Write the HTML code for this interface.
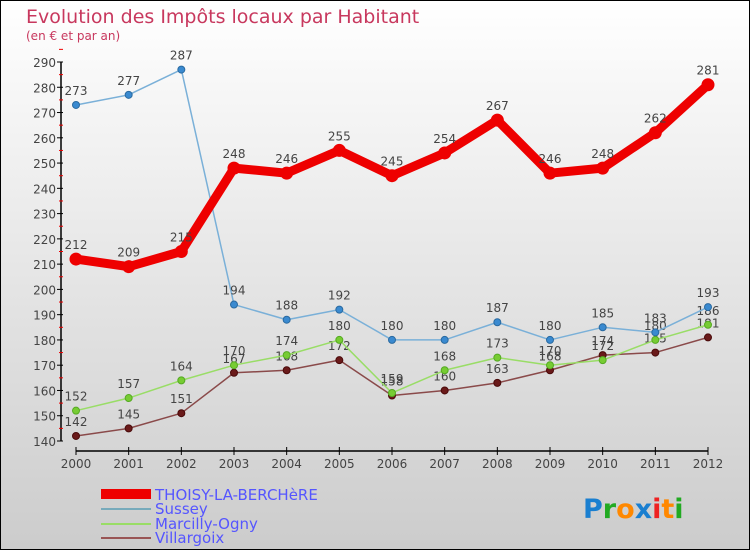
<!DOCTYPE html>
<html><head><meta charset="utf-8"><style>
body{margin:0}
#c{width:748px;height:548px;border:1px solid #000;background:linear-gradient(#fff,#ccc);position:relative;font-family:"DejaVu Sans","Liberation Sans",sans-serif;overflow:hidden}
svg text{font-family:"DejaVu Sans","Liberation Sans",sans-serif}
</style></head><body>
<div id="c">
<svg id="s" width="748" height="548">
<text x="25" y="22" font-size="19" fill="#c8385e">Evolution des Impôts locaux par Habitant</text>
<text x="25" y="39" font-size="12" fill="#c8385e">(en € et par an)</text>
<g id="axes"></g><g id="series"></g>
<g>
<rect x="100" y="488" width="50" height="10" fill="#e00"/>
<text x="154" y="499" font-size="15" fill="#55f">THOISY-LA-BERCHèRE</text>
<line x1="100" y1="508" x2="150" y2="508" stroke="#7ab" stroke-width="2"/>
<text x="154" y="513" font-size="15" fill="#55f">Sussey</text>
<line x1="100" y1="523" x2="150" y2="523" stroke="#9d6" stroke-width="2"/>
<text x="154" y="528" font-size="15" fill="#55f">Marcilly-Ogny</text>
<line x1="100" y1="537" x2="150" y2="537" stroke="#955" stroke-width="2"/>
<text x="154" y="542" font-size="15" fill="#55f">Villargoix</text>
</g>
<g font-size="27" font-weight="bold">
<text x="582" y="517"><tspan fill="#1a7fd0">P</tspan><tspan fill="#2a2">r</tspan><tspan fill="#f80">o</tspan><tspan fill="#1a7fd0">x</tspan><tspan fill="#e22">i</tspan><tspan fill="#f80">t</tspan><tspan fill="#2a2">i</tspan></text>
</g>
</svg></div>
<script>
const years=[2000,2001,2002,2003,2004,2005,2006,2007,2008,2009,2010,2011,2012];
const yTicks=[140,150,160,170,180,190,200,210,220,230,240,250,260,270,280,290];
const thoisy=[212,209,215,248,246,255,245,254,267,246,248,262,281];
const sussey=[273,277,287,194,188,192,180,180,187,180,185,183,193];
const marcilly=[152,157,164,170,174,180,159,168,173,170,172,180,186];
const villargoix=[142,145,151,167,168,172,158,160,163,168,174,175,181];
const NS="http://www.w3.org/2000/svg";
const X=i=>75+i*(632/12);
const Y=v=>440-(v-140)*(379/150);
function mk(t,a,p){const e=document.createElementNS(NS,t);for(const k in a)e.setAttribute(k,a[k]);p.appendChild(e);return e;}
const ax=document.getElementById('axes'),sg=document.getElementById('series');
let l=mk('line',{x1:60,y1:Y(290),x2:60,y2:Y(140),stroke:'#000','stroke-width':1.5},ax);


yTicks.forEach(v=>{
 const t=mk('line',{x1:56,y1:Y(v),x2:62,y2:Y(v),stroke:'#000'},ax);
 
 
 const m=mk('line',{x1:58,y1:Y(v+5),x2:62,y2:Y(v+5),stroke:'#e00'},ax);
 
 
 const tx=mk('text',{x:55,y:Y(v)+5,'font-size':12,fill:'#444','text-anchor':'end'},ax);tx.textContent=v;
 
 
});
l=mk('line',{x1:75,y1:450,x2:707,y2:450,stroke:'#000','stroke-width':1.5},ax);


years.forEach((y,i)=>{
 const t=mk('line',{x1:X(i),y1:446,x2:X(i),y2:454,stroke:'#000'},ax);
 
 
 const tx=mk('text',{x:X(i),y:467,'font-size':12,fill:'#444','text-anchor':'middle'},ax);tx.textContent=y;
 
 
});
function draw(data,name,color,w,r,dot,dotStroke){
 const g=mk('g',{},sg);
 
 
 const p=mk('polyline',{points:data.map((v,i)=>X(i)+','+Y(v)).join(' '),fill:'none',stroke:color,'stroke-width':w,'stroke-linejoin':'round'},g);
 
 
 data.forEach((v,i)=>{
  const c=mk('circle',{cx:X(i),cy:Y(v),r:r,fill:dot,stroke:dotStroke,'stroke-width':1},g);
  
  
  const t=mk('text',{x:X(i),y:Y(v)-10,'font-size':12,fill:'#444','text-anchor':'middle'},g);t.textContent=v;
  
  
 });
}
draw(villargoix,'villargoix','#8a4a4a',1.5,3.5,'#6a1a1a','#4a0a0a');
draw(marcilly,'marcilly','#9d6',1.5,3.5,'#7c3','#5a2');
draw(sussey,'sussey','#7ab0d8',1.5,3.5,'#3a8ad0','#2a6aa0');
draw(thoisy,'thoisy','#e00',9,6,'#e00','#e00');
</script>
</body></html>
